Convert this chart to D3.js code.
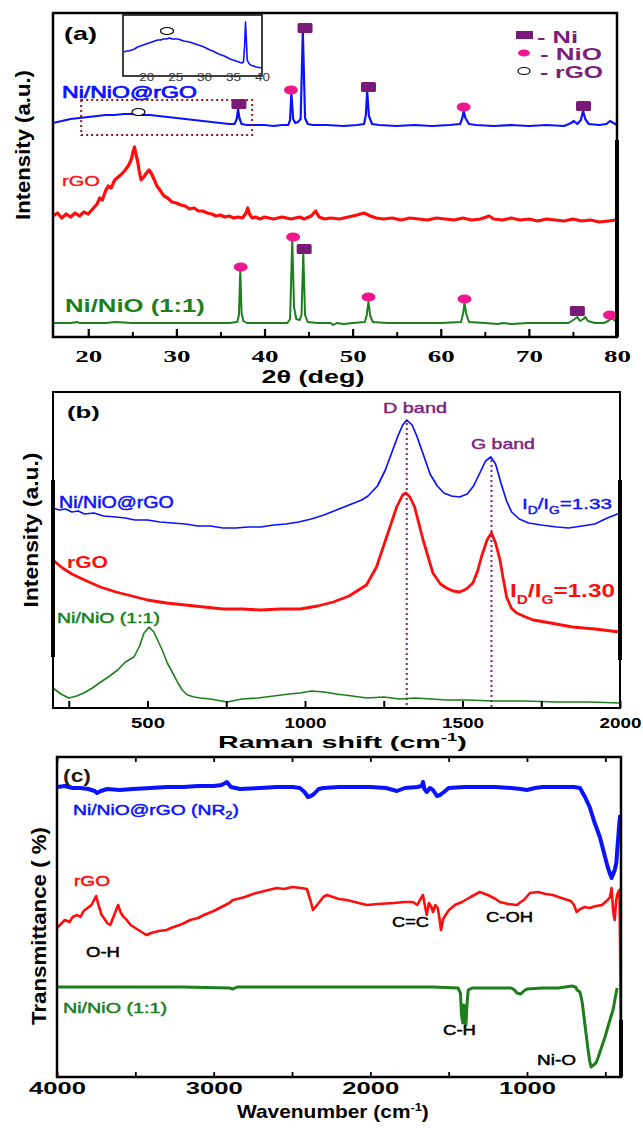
<!DOCTYPE html>
<html><head><meta charset="utf-8">
<script src="https://cdn.jsdelivr.net/npm/d3@7"></script>
<style>body{margin:0;background:#fff}svg{display:block}</style>
</head><body>
<svg id="c" width="643" height="1128"></svg>
<script>
// ---------------- DATA ----------------
// (a) XRD, x = 2θ (deg), y = intensity (a.u., offset per trace)
const xrdTicks = [20, 30, 40, 50, 60, 70, 80];
const xrdMinorTicks = [25, 35, 45, 55, 65, 75];
const xrdNiNiOrGO = [[16,214],[17,216],[18,218],[19,219],[20,220],[21,221],[22,222],[23,222],[24,223],[25,223],[26,222],[27,222],[28,221],[29,220],[30,219],[31,218],[32,217],[33,216],[34,215],[35,214],[36,213],[36.6,213],[36.85,218],[37.0,228],[37.15,219],[37.4,213],[38,212],[39,212],[40,212],[41,211],[42,212],[42.7,212],[42.9,217],[43.05,244],[43.25,218],[43.5,214],[43.8,215],[44.1,218],[44.35,306],[44.6,219],[44.9,213],[45.5,212],[47,212],[49,211],[50.5,212],[51.3,213],[51.5,222],[51.65,246],[51.85,221],[52.2,213],[53,212],[55,211],[57,212],[59,211],[61,212],[62.2,213],[62.45,219],[62.6,226],[62.8,219],[63.2,213],[64,212],[66,211],[68,212],[70,211],[72,212],[74,211],[74.8,214],[75.1,216],[75.5,213],[75.9,217],[76.15,226],[76.4,218],[76.8,213],[78,212],[78.8,213],[79.2,216],[79.6,214],[80,212]];
const xrdRGO = [[16,121],[16.5,124],[17,119],[17.5,123],[18,120],[18.5,124],[19,121],[19.5,125],[20,123],[20.5,128],[21,133],[21.3,139],[21.6,137],[22,147],[22.3,151],[22.6,149],[23,157],[23.4,160],[23.8,163],[24.2,167],[24.6,172],[24.9,178],[25.1,186],[25.25,190],[25.4,183],[25.6,176],[25.8,165],[26,157],[26.3,160],[26.6,164],[26.9,167],[27.2,163],[27.5,157],[27.8,151],[28.2,146],[28.6,141],[29,139],[29.5,135],[30,134],[30.5,132],[31,131],[31.5,128],[32,129],[32.5,126],[33,126],[33.5,124],[34,123],[34.5,121],[35,122],[35.5,120],[36,121],[36.5,119],[37,120],[37.5,119],[37.9,124],[38.1,129],[38.3,123],[38.6,119],[39,120],[39.5,118],[40,120],[41,118],[42,120],[43,118],[44,120],[44.5,118],[45.3,121],[45.8,126],[46.2,120],[46.8,118],[47.5,119],[48.5,118],[49.5,120],[50.5,122],[51.3,124],[52,121],[52.7,119],[53.5,118],[54.5,119],[55.5,117],[56.5,119],[57.5,118],[58.5,117],[59.5,119],[60.5,118],[61.5,117],[62.5,119],[63.5,117],[64.5,118],[65.5,121],[66,118],[67,117],[68,119],[69,117],[70,118],[71,116],[72,118],[73,117],[74,116],[75,118],[76,116],[77,117],[78,115],[79,116],[80,117]];
const xrdNiNiO = [[16,14],[18,14],[18.8,15],[19,14],[22,14],[23,15],[25,14],[28,14],[30,14],[33,14],[36,14],[36.9,15],[37.1,22],[37.25,66],[37.4,24],[37.6,16],[38,14],[40,14],[42.6,14],[42.9,18],[43.15,97],[43.35,30],[43.6,18],[44.0,17],[44.2,22],[44.4,84],[44.6,22],[44.9,15],[46,14],[47.5,14],[47.8,12],[48.2,14],[49,13],[50,14],[51.4,15],[51.6,22],[51.8,35],[52.0,21],[52.3,15],[54,14],[56,14],[58,14],[60,14],[62.3,15],[62.55,24],[62.7,34],[62.9,23],[63.2,15],[65,14],[66.5,13],[67,14],[68,13],[70,14],[72,14],[74.5,14],[75.2,18],[75.5,20],[75.8,16],[76.2,18],[76.4,20],[76.7,16],[77.5,14],[78.5,14],[79,16],[79.4,19],[79.8,16],[80,15]];
const xrdNiMarks = [[37.1,233],[44.6,309],[51.8,250],[76.2,231],[44.5,88],[75.5,26]];
const xrdNiOMarks = [[43.0,247],[62.6,230],[37.3,70],[43.25,100],[51.8,40],[62.7,38],[79.2,22]];
const xrdRGOMarks = [[25.7,225]];
const xrdZoomBox = [[19.2,202],[38.6,237]];
// inset
const insetTicks = [20, 25, 30, 35, 40];
const insetNiNiOrGO = [[16.2,24],[16.6,25],[17,25],[17.5,26],[18,27],[18.5,29],[19,30],[19.5,31],[20,32],[20.5,33],[21,34],[21.5,35],[22,36],[22.5,36],[23,37],[23.5,37],[24,38],[24.5,37],[25,37],[25.5,37],[26,36],[26.5,35],[27,34.5],[27.5,34],[28,33],[28.5,32],[29,31],[29.5,30],[30,29],[30.5,27.5],[31,26],[31.5,25],[32,23.5],[32.5,22],[33,21],[33.5,20],[34,18.5],[34.5,17],[35,16],[35.5,15],[36,14],[36.5,13],[36.8,14],[37.0,30],[37.15,54],[37.3,36],[37.45,16],[37.7,13],[38,11],[38.5,10],[39,9],[39.5,8.5],[40,8]];
const insetRGOMarks = [[23.6,45]];

// (b) Raman, x = Raman shift (cm-1)
const ramanTicks = [500, 1000, 1500, 2000];
const ramanMinorTicks = [250, 750, 1250, 1750];
const ramanNiNiOrGO = [[200,200],[220,198],[240,199],[260,196],[280,197],[300,194],[330,195],[360,192],[400,191],[430,190],[460,188],[500,188],[540,186],[580,185],[620,184],[660,182],[700,182],[740,180],[780,180],[820,181],[860,181],[900,183],[940,184],[980,186],[1020,189],[1060,193],[1100,198],[1140,203],[1180,208],[1200,212],[1230,222],[1255,238],[1275,255],[1295,272],[1310,283],[1323,288],[1340,283],[1355,272],[1375,254],[1397,234],[1420,222],[1441,215],[1465,212],[1491,211],[1515,214],[1535,222],[1555,235],[1573,247],[1590,251],[1605,244],[1623,224],[1640,207],[1656,196],[1680,189],[1710,185],[1750,183],[1800,181],[1837,180],[1880,182],[1920,184],[1960,190],[2000,195]];
const ramanRGO = [[200,148],[215,144],[230,140],[260,134],[300,128],[350,121],[400,116],[450,112],[500,108],[560,105],[620,103],[680,101],[740,99],[800,99],[860,98],[920,99],[985,99],[1040,102],[1090,106],[1140,112],[1195,123],[1227,141],[1259,171],[1291,201],[1310,213],[1320,215],[1333,211],[1348,201],[1375,168],[1406,135],[1430,124],[1449,120],[1470,117],[1491,116],[1512,119],[1533,125],[1548,137],[1560,151],[1578,168],[1592,175],[1605,165],[1619,148],[1630,128],[1640,111],[1655,100],[1672,95],[1700,91],[1725,88],[1780,85],[1849,81],[1920,79],[2000,76]];
const ramanNiNiO = [[200,20],[225,14],[250,10],[275,12],[298,15],[325,20],[352,26],[380,32],[405,38],[430,46],[457,51],[475,62],[489,75],[505,81],[520,76],[532,68],[548,57],[563,45],[580,35],[595,26],[610,18],[627,13],[648,11],[668,10],[700,9],[753,6],[800,9],[850,10],[900,12],[950,14],[985,15],[1020,17],[1060,16],[1100,14],[1150,12],[1197,10],[1250,11],[1300,9],[1350,10],[1400,9],[1450,8],[1517,8],[1600,7],[1700,7],[1800,6],[1900,6],[2000,5]];
const ramanBands = [{name: "D band", x: 1323, top: 285}, {name: "G band", x: 1592, top: 248}];

// (c) FTIR, x = wavenumber (cm-1)
const ftirTicks = [4000, 3000, 2000, 1000];
const ftirMinorTicks = [4000, 3500, 3000, 2500, 2000, 1500, 1000, 500];
const ftirNiNiOrGO = [[4000,290],[3950,291],[3900,289],[3850,289],[3800,288],[3760,286],[3745,284],[3720,286],[3680,288],[3600,287],[3515,288],[3400,289],[3300,290],[3196,290],[3100,291],[3000,291],[2950,292],[2915,295],[2890,290],[2860,289],[2832,288],[2700,289],[2600,290],[2494,290],[2450,289],[2420,285],[2398,280],[2380,281],[2360,283],[2330,288],[2300,289],[2200,290],[2100,290],[2000,290],[1900,289],[1830,286],[1780,289],[1700,290],[1672,291],[1664,295],[1655,288],[1640,285],[1620,289],[1600,287],[1575,281],[1555,282],[1530,285],[1500,289],[1400,290],[1300,290],[1200,290],[1100,289],[1040,288],[1000,287],[950,289],[900,290],[800,290],[700,290],[662,289],[630,280],[600,270],[570,255],[535,240],[510,225],[485,210],[470,203],[460,199],[450,203],[440,207],[430,214],[420,235],[410,255],[405,262]];
const ftirRGO = [[4000,149],[3975,153],[3950,157],[3920,155],[3900,160],[3872,162],[3850,160],[3830,166],[3805,169],[3780,172],[3760,178],[3750,181],[3735,172],[3715,162],[3700,159],[3680,154],[3660,152],[3640,160],[3620,168],[3610,172],[3595,165],[3575,160],[3560,158],[3530,152],[3500,149],[3470,146],[3440,143],[3426,142],[3400,144],[3350,146],[3300,147],[3272,149],[3200,153],[3150,157],[3100,159],[3062,162],[3000,166],[2950,170],[2900,174],[2877,177],[2850,178],[2800,180],[2750,183],[2700,185],[2650,187],[2596,189],[2550,188],[2500,190],[2440,189],[2405,188],[2385,178],[2366,167],[2350,170],[2330,174],[2300,180],[2277,182],[2200,178],[2150,177],[2100,175],[2022,172],[1950,173],[1850,174],[1780,175],[1728,175],[1700,172],[1680,178],[1664,182],[1650,170],[1640,162],[1626,174],[1610,170],[1600,165],[1585,172],[1570,169],[1560,160],[1549,147],[1535,158],[1520,162],[1498,167],[1460,172],[1415,175],[1360,180],[1301,185],[1250,182],[1200,178],[1173,175],[1120,173],[1064,172],[1040,175],[1020,177],[981,184],[930,185],[880,183],[835,182],[780,179],[720,176],[700,172],[683,165],[660,168],[630,170],[600,169],[560,171],[520,172],[500,175],[485,177],[470,180],[460,189],[452,170],[445,160],[440,157],[432,175],[425,182],[415,186],[410,187],[405,120],[402,57]];
const ftirNiNiO = [[4000,90],[3800,90],[3500,90],[3200,90],[2900,89],[2877,88],[2850,90],[2500,90],[2200,90],[2000,90],[1800,90],[1600,90],[1440,89],[1425,84],[1418,62],[1410,54],[1403,72],[1397,60],[1390,52],[1382,75],[1375,87],[1350,89],[1200,89],[1100,89],[1080,87],[1064,84],[1040,83],[1020,86],[1000,88],[900,89],[800,89],[713,91],[690,90],[680,87],[662,85],[648,75],[636,60],[622,42],[610,27],[600,16],[591,10],[575,12],[560,14],[545,20],[530,27],[515,34],[502,40],[480,52],[465,60],[451,67],[438,78],[425,89]];

// ---------------- STYLE ----------------
const BLUE = "#0b12ff", RED = "#ff0d0d", GREEN = "#1c7f1c", PURPLE = "#7b2382", NI = "#7a1a78", NIO = "#f0168c";
const SANS = "'Liberation Sans', Arial, sans-serif", SERIF = "'Liberation Serif', 'Times New Roman', serif";

const svg = d3.select("#c");
svg.append("rect").attr("width", 643).attr("height", 1128).attr("fill", "#fff");

function addText(parent, o) {
  const g = parent.append("g").attr("transform", `translate(${o.x},${o.y})${o.rot ? ` rotate(${o.rot})` : ""}`);
  const fill = o.fill || "#000";
  const t = g.append("text")
    .attr("text-anchor", o.anchor || "start")
    .style("font-family", o.family || SANS)
    .style("font-size", o.size + "px")
    .style("font-weight", o.weight || "normal")
    .attr("fill", fill);
  if (o.thick) t.attr("stroke", fill).attr("stroke-width", o.thick).attr("stroke-linejoin", "round");
  const parts = typeof o.text === "string" ? [{t: o.text}] : o.text;
  let shift = 0;
  parts.forEach(p => {
    const s = t.append("tspan").text(p.t);
    const target = p.dy || 0;
    if (target !== shift) { s.attr("dy", target - shift); shift = target; }
    if (p.size) s.style("font-size", p.size + "px");
  });
  if (o.width) {
    const w = t.node().getComputedTextLength();
    if (w > 0) t.attr("transform", `scale(${o.width / w},1)`);
  }
  return t;
}
function stretch(sel, widthFn) {
  sel.each(function(d) {
    const w = this.getComputedTextLength();
    if (w > 0) d3.select(this).attr("transform", `scale(${widthFn(d) / w},1)`);
  });
}
function drawLine(g, data, x, y, color, width) {
  g.append("path").datum(data)
    .attr("fill", "none").attr("stroke", color).attr("stroke-width", width)
    .attr("stroke-linejoin", "round")
    .attr("d", d3.line().x(d => x(d[0])).y(d => y(d[1])));
}

// ================= PANEL (a) =================
const A = {l: 53, r: 617, t: 13, b: 337};
const xA = d3.scaleLinear().domain([16, 80]).range([A.l, A.r]);
const yA = d3.scaleLinear().domain([0, 324]).range([A.b, A.t]);
const gA = svg.append("g");

drawLine(gA, xrdRGO, xA, yA, RED, 3.2);
drawLine(gA, xrdNiNiO, xA, yA, GREEN, 2);
drawLine(gA, xrdNiNiOrGO, xA, yA, BLUE, 2.2);

// zoom box (dotted)
gA.append("rect")
  .attr("x", xA(xrdZoomBox[0][0])).attr("y", yA(xrdZoomBox[1][1]))
  .attr("width", xA(xrdZoomBox[1][0]) - xA(xrdZoomBox[0][0]))
  .attr("height", yA(xrdZoomBox[0][1]) - yA(xrdZoomBox[1][1]))
  .attr("fill", "none").attr("stroke", "#8b1c1c").attr("stroke-width", 2).attr("stroke-dasharray", "2,3");

// markers
gA.selectAll(".ni").data(xrdNiMarks).join("rect")
  .attr("x", d => xA(d[0]) - 7.5).attr("y", d => yA(d[1]) - 5)
  .attr("width", 15).attr("height", 10).attr("rx", 1.5).attr("fill", NI);
gA.selectAll(".nio").data(xrdNiOMarks).join("ellipse")
  .attr("cx", d => xA(d[0])).attr("cy", d => yA(d[1]))
  .attr("rx", 7).attr("ry", 4.5).attr("fill", NIO);
gA.selectAll(".rgo").data(xrdRGOMarks).join("ellipse")
  .attr("cx", d => xA(d[0])).attr("cy", d => yA(d[1]))
  .attr("rx", 6.5).attr("ry", 3.5).attr("fill", "#fff").attr("stroke", "#000").attr("stroke-width", 1.2);

// frame
gA.append("rect").attr("x", A.l).attr("y", A.t).attr("width", A.r - A.l).attr("height", A.b - A.t)
  .attr("fill", "none").attr("stroke", "#000").attr("stroke-width", 2.5);
gA.append("line").attr("x1", A.r).attr("x2", A.r).attr("y1", 140).attr("y2", A.b).attr("stroke", "#000").attr("stroke-width", 4);

// axis
const axAmaj = gA.append("g").attr("transform", `translate(0,${A.b})`)
  .call(d3.axisBottom(xA).tickValues(xrdTicks).tickSizeInner(-8).tickSizeOuter(0).tickFormat(d3.format("d")));
axAmaj.select(".domain").remove();
axAmaj.selectAll(".tick line").attr("stroke", "#000").attr("stroke-width", 2.2);
axAmaj.selectAll(".tick text").attr("y", 25).attr("dy", null).attr("fill", "#000")
  .style("font-family", SERIF).style("font-size", "17px").style("font-weight", "bold");
stretch(axAmaj.selectAll(".tick text"), () => 27);
const axAmin = gA.append("g").attr("transform", `translate(0,${A.b})`)
  .call(d3.axisBottom(xA).tickValues(xrdMinorTicks).tickSizeInner(-5).tickSizeOuter(0).tickFormat(""));
axAmin.select(".domain").remove();
axAmin.selectAll(".tick line").attr("stroke", "#000").attr("stroke-width", 2);

// inset
const xI = d3.scaleLinear().domain([16, 40]).range([123, 262]);
const yI = d3.scaleLinear().domain([0, 61]).range([76, 15]);
gA.append("rect").attr("x", 123).attr("y", 15).attr("width", 139).attr("height", 61)
  .attr("fill", "#fff").attr("stroke", "#000").attr("stroke-width", 1.5);
drawLine(gA, insetNiNiOrGO, xI, yI, BLUE, 1.6);
gA.selectAll(".irgo").data(insetRGOMarks).join("ellipse")
  .attr("cx", d => xI(d[0])).attr("cy", d => yI(d[1]))
  .attr("rx", 6.5).attr("ry", 3.5).attr("fill", "#fff").attr("stroke", "#000").attr("stroke-width", 1.2);
const axI = gA.append("g").attr("transform", `translate(0,76)`)
  .call(d3.axisBottom(xI).tickValues(insetTicks).tickSize(0).tickFormat(d3.format("d")));
axI.select(".domain").remove();
axI.selectAll(".tick text").attr("y", 5).attr("dy", null).attr("fill", "#333")
  .style("font-family", SANS).style("font-size", "10px");
stretch(axI.selectAll(".tick text"), () => 15);

// texts (a)
addText(gA, {x: 64, y: 40, text: "(a)", size: 18, weight: "bold", width: 33});
addText(gA, {x: 62, y: 98, text: "Ni/NiO@rGO", size: 16, fill: BLUE, width: 135, thick: 0.7});
addText(gA, {x: 62, y: 186, text: "rGO", size: 14, fill: RED, width: 38, thick: 0.3});
addText(gA, {x: 65, y: 312, text: "Ni/NiO (1:1)", size: 19, weight: "bold", fill: GREEN, width: 140});
addText(gA, {x: 313, y: 383, text: "2θ (deg)", size: 18, weight: "bold", anchor: "middle", width: 103});
addText(gA, {x: 30, y: 145, rot: -90, text: "Intensity (a.u.)", size: 20, weight: "bold", anchor: "middle", width: 150});
// legend
gA.append("rect").attr("x", 516).attr("y", 31).attr("width", 17).attr("height", 8).attr("fill", NI);
gA.append("ellipse").attr("cx", 524).attr("cy", 53).attr("rx", 6).attr("ry", 3.5).attr("fill", NIO);
gA.append("ellipse").attr("cx", 524).attr("cy", 71).attr("rx", 6).attr("ry", 3.5).attr("fill", "#fff").attr("stroke", "#000").attr("stroke-width", 1.2);
addText(gA, {x: 537, y: 43, text: "- Ni", size: 16, weight: "bold", fill: "#7a1f7a", width: 41});
addText(gA, {x: 540, y: 60, text: "- NiO", size: 16, weight: "bold", fill: "#7a1f7a", width: 62});
addText(gA, {x: 540, y: 78, text: "- rGO", size: 16, weight: "bold", fill: "#7a1f7a", width: 63});

// ================= PANEL (b) =================
const B = {l: 53, r: 620, t: 392, b: 708};
const xB = d3.scaleLinear().domain([200, 2000]).range([B.l, B.r]);
const yB = d3.scaleLinear().domain([0, 316]).range([B.b, B.t]);
const gB = svg.append("g");
drawLine(gB, ramanNiNiO, xB, yB, GREEN, 1.6);
drawLine(gB, ramanRGO, xB, yB, RED, 2.8);
drawLine(gB, ramanNiNiOrGO, xB, yB, BLUE, 1.7);
gB.selectAll(".band").data(ramanBands).join("line")
  .attr("x1", d => xB(d.x)).attr("x2", d => xB(d.x))
  .attr("y1", d => yB(d.top)).attr("y2", B.b)
  .attr("stroke", PURPLE).attr("stroke-width", 2).attr("stroke-dasharray", "2,3");
gB.append("rect").attr("x", B.l).attr("y", B.t).attr("width", B.r - B.l).attr("height", B.b - B.t)
  .attr("fill", "none").attr("stroke", "#000").attr("stroke-width", 2);
gB.append("line").attr("x1", B.l).attr("x2", B.l).attr("y1", 480).attr("y2", 657).attr("stroke", "#000").attr("stroke-width", 4);
gB.append("line").attr("x1", B.r).attr("x2", B.r).attr("y1", 480).attr("y2", 660).attr("stroke", "#000").attr("stroke-width", 4);
const axB = gB.append("g").attr("transform", `translate(0,${B.b})`)
  .call(d3.axisBottom(xB).tickValues(ramanTicks).tickSizeInner(-7).tickSizeOuter(0).tickFormat(d3.format("d")));
axB.select(".domain").remove();
axB.selectAll(".tick line").attr("stroke", "#000").attr("stroke-width", 2);
axB.selectAll(".tick text").attr("y", 20).attr("dy", null).attr("fill", "#000")
  .style("font-family", SANS).style("font-size", "14px").style("font-weight", "bold");
stretch(axB.selectAll(".tick text"), d => d >= 1000 ? 42 : 34);
const axBmin = gB.append("g").attr("transform", `translate(0,${B.b})`)
  .call(d3.axisBottom(xB).tickValues(ramanMinorTicks).tickSizeInner(-7).tickSizeOuter(0).tickFormat(""));
axBmin.select(".domain").remove();
axBmin.selectAll(".tick line").attr("stroke", "#000").attr("stroke-width", 2);

addText(gB, {x: 67, y: 418, text: "(b)", size: 17, weight: "bold", width: 33});
addText(gB, {x: 59, y: 508, text: "Ni/NiO@rGO", size: 16, fill: BLUE, width: 115, thick: 0.5});
addText(gB, {x: 67, y: 568, text: "rGO", size: 16, weight: "bold", fill: RED, width: 41});
addText(gB, {x: 57, y: 623, text: "Ni/NiO (1:1)", size: 15, fill: GREEN, width: 103, thick: 0.5});
const bandLabelPos = [[383, 413], [471, 449]];
ramanBands.forEach((b, i) => {
  addText(gB, {x: bandLabelPos[i][0], y: bandLabelPos[i][1], text: b.name, size: 14, fill: PURPLE, width: 64, thick: 0.4});
});
addText(gB, {x: 522, y: 509, size: 15, fill: BLUE, width: 90, thick: 0.4,
  text: [{t: "I"}, {t: "D", dy: 5, size: 10}, {t: "/I", dy: 0}, {t: "G", dy: 5, size: 10}, {t: "=1.33", dy: 0}]});
addText(gB, {x: 510, y: 597, size: 19, weight: "bold", fill: RED, width: 105,
  text: [{t: "I"}, {t: "D", dy: 7, size: 12}, {t: "/I", dy: 0}, {t: "G", dy: 7, size: 12}, {t: "=1.30", dy: 0}]});
addText(gB, {x: 218, y: 748, size: 17, weight: "bold", width: 249,
  text: [{t: "Raman shift (cm"}, {t: "-1", dy: -7, size: 11}, {t: ")", dy: 0}]});
addText(gB, {x: 38, y: 530, rot: -90, text: "Intensity (a.u.)", size: 20, weight: "bold", anchor: "middle", width: 155});

// ================= PANEL (c) =================
const C = {l: 57, r: 621, t: 757, b: 1077};
const xC = d3.scaleLinear().domain([4000, 400]).range([C.l, C.r]);
const yC = d3.scaleLinear().domain([0, 320]).range([C.b, C.t]);
const gC = svg.append("g");
drawLine(gC, ftirNiNiO, xC, yC, GREEN, 3);
drawLine(gC, ftirRGO, xC, yC, RED, 2.6);
drawLine(gC, ftirNiNiOrGO, xC, yC, BLUE, 4);
gC.append("rect").attr("x", C.l).attr("y", C.t).attr("width", C.r - C.l).attr("height", C.b - C.t)
  .attr("fill", "none").attr("stroke", "#000").attr("stroke-width", 2.5);
gC.append("line").attr("x1", C.r).attr("x2", C.r).attr("y1", 1020).attr("y2", C.b).attr("stroke", "#000").attr("stroke-width", 4);
const axC = gC.append("g").attr("transform", `translate(0,${C.b})`)
  .call(d3.axisBottom(xC).tickValues(ftirTicks).tickSize(0).tickFormat(d3.format("d")));
axC.select(".domain").remove();
axC.selectAll(".tick text").attr("y", 17).attr("dy", null).attr("fill", "#000")
  .style("font-family", SANS).style("font-size", "16px").style("font-weight", "bold");
stretch(axC.selectAll(".tick text"), () => 57);
const axCb = gC.append("g").attr("transform", `translate(0,${C.b})`)
  .call(d3.axisBottom(xC).tickValues(ftirMinorTicks).tickSizeInner(-5).tickSizeOuter(0).tickFormat(""));
axCb.select(".domain").remove();
axCb.selectAll(".tick line").attr("stroke", "#000").attr("stroke-width", 1.8);
const axCt = gC.append("g").attr("transform", `translate(0,${C.t})`)
  .call(d3.axisTop(xC).tickValues(ftirMinorTicks).tickSizeInner(-5).tickSizeOuter(0).tickFormat(""));
axCt.select(".domain").remove();
axCt.selectAll(".tick line").attr("stroke", "#000").attr("stroke-width", 1.8);

addText(gC, {x: 63, y: 782, text: "(c)", size: 18, weight: "bold", fill: "#241a10", width: 28});
addText(gC, {x: 73, y: 815, size: 15, fill: BLUE, width: 166, thick: 0.5,
  text: [{t: "Ni/NiO@rGO (NR"}, {t: "2", dy: 4, size: 10}, {t: ")", dy: 0}]});
addText(gC, {x: 74, y: 886, text: "rGO", size: 15, fill: RED, width: 36, thick: 0.5});
addText(gC, {x: 63, y: 1013, text: "Ni/NiO (1:1)", size: 15, fill: GREEN, width: 104, thick: 0.5});
addText(gC, {x: 86, y: 957, text: "O-H", size: 15, width: 34, thick: 0.5});
addText(gC, {x: 392, y: 927, text: "C=C", size: 15, width: 37, thick: 0.5});
addText(gC, {x: 486, y: 922, text: "C-OH", size: 15, width: 47, thick: 0.5});
addText(gC, {x: 443, y: 1035, text: "C-H", size: 15, width: 33, thick: 0.5});
addText(gC, {x: 537, y: 1065, text: "Ni-O", size: 15, width: 39, thick: 0.5});
addText(gC, {x: 237, y: 1118, size: 18, weight: "bold", width: 192,
  text: [{t: "Wavenumber (cm"}, {t: "-1", dy: -7, size: 11}, {t: ")", dy: 0}]});
addText(gC, {x: 46, y: 926, rot: -90, text: "Transmittance ( %)", size: 20, weight: "bold", anchor: "middle", width: 198});
</script>
</body></html>
